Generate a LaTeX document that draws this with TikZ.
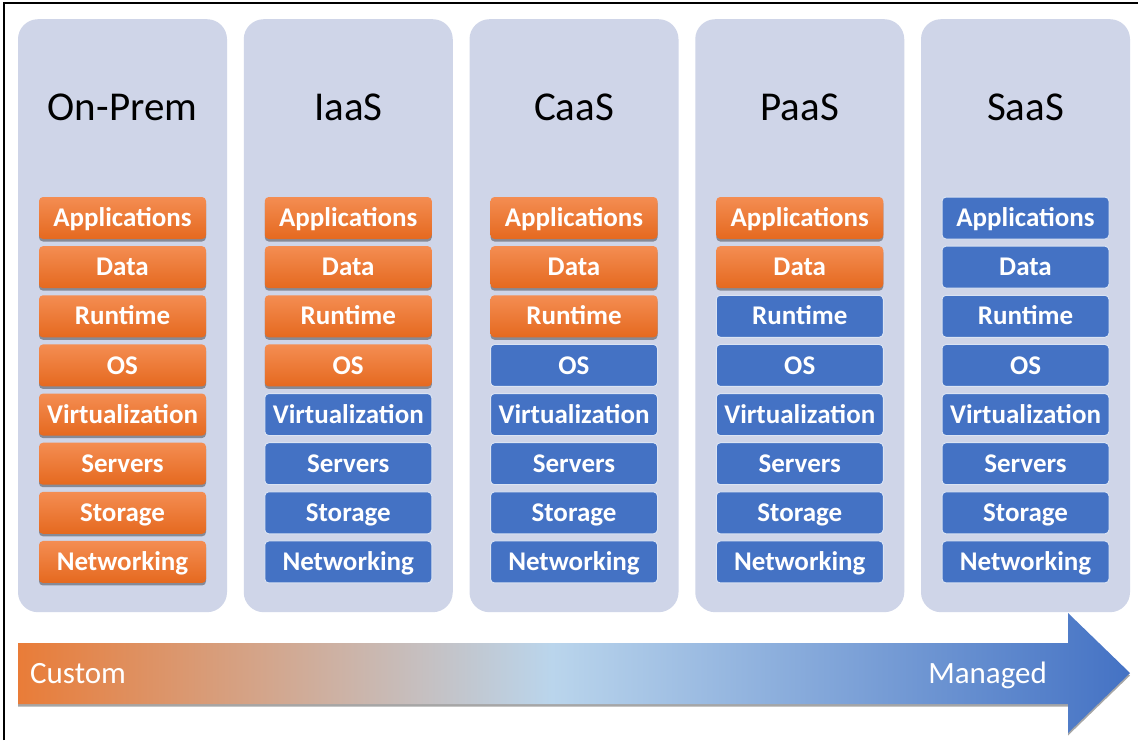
\documentclass[tikz,border=0pt]{standalone}
\usepackage{fontspec}
\setmainfont{Carlito}
\usetikzlibrary{shadows}
\definecolor{panel}{HTML}{CFD5E8}
\definecolor{oTop}{HTML}{F48D52}
\definecolor{oBot}{HTML}{E5691F}
\definecolor{bBox}{HTML}{4472C4}
\definecolor{cOr}{HTML}{E97C38}
\definecolor{cLB}{HTML}{BAD5EC}
\definecolor{cBl}{HTML}{4472C4}
\pgfdeclarehorizontalshading{arrowshade}{100bp}{color(0bp)=(cOr); color(25bp)=(cOr); color(49bp)=(cLB); color(75bp)=(cBl); color(100bp)=(cBl)}
\tikzset{
  panelbox/.style={fill=panel, rounded corners=20pt, minimum width=209pt, minimum height=593pt, inner sep=0pt, anchor=north},
  layerbox/.style={minimum width=167pt, minimum height=42pt, rounded corners=4pt, inner sep=0pt,
    font=\fontsize{27}{27}\selectfont\bfseries, text=white, text height=17.4pt, text depth=0pt},
  orangebox/.style={layerbox, top color=oTop, bottom color=oBot,
    drop shadow={shadow xshift=0pt, shadow yshift=-2.5pt, opacity=0.35, fill=black}},
  bluebox/.style={layerbox, fill=bBox, draw=white!80!bBox, line width=1pt},
  title/.style={font=\fontsize{41}{41}\selectfont, text=black, text height=26.4pt, text depth=0pt, inner sep=0pt},
  arrowlabel/.style={font=\fontsize{31}{31}\selectfont, text=white, text height=20pt, text depth=0pt, inner sep=0pt}
}
\begin{document}
\begin{tikzpicture}[x=1pt,y=-1pt]
\useasboundingbox (0,0) rectangle (1138,740);
\fill[white] (0,0) rectangle (1138,740);
% frame
\draw[line width=1.8pt, black] (4.3,740) -- (4.3,3.3) -- (1138,3.3);
% panels
\foreach \t/\n [count=\i from 0] in {On-Prem/8, IaaS/4, CaaS/3, PaaS/2, SaaS/0} {
  \pgfmathsetmacro\cx{122.5+\i*225.75}
  \node[panelbox] (panel\i) at (\cx,19) {};
  \node[title] (title\i) at (\cx,107.5) {\t};
  \foreach \L [count=\j from 0] in {Applications,Data,Runtime,OS,Virtualization,Servers,Storage,Networking} {
    \pgfmathsetmacro\cy{218+\j*49.14}
    \ifnum\j<\n\relax\def\st{orangebox}\else\def\st{bluebox}\fi
    \node[\st] (L\i-\j) at (\cx,\cy) {\L};
  }
}
% gradient arrow
\path[shading=arrowshade, drop shadow={shadow xshift=0pt, shadow yshift=-2.5pt, opacity=0.35, fill=black}]
  (18,643) -- (1068,643) -- (1068,613) -- (1130,673) -- (1068,733) -- (1068,704) -- (18,704) -- cycle;
\node[arrowlabel, anchor=west] (custom) at (30,673) {Custom};
\node[arrowlabel, anchor=east] (managed) at (1047,673) {Managed};
\end{tikzpicture}
\end{document}
